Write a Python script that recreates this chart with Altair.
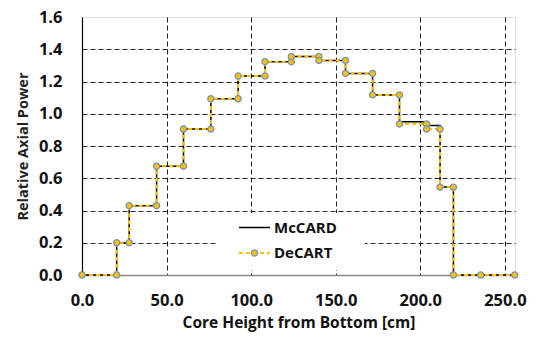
import altair as alt
import pandas as pd

# ---- data ----
height_cm = [0, 20.5, 20.5, 27.9, 27.9, 44.1, 44.1, 60.0, 60.0, 76.2, 76.2, 92.3, 92.3,
             108.2, 108.2, 123.8, 123.8, 140.1, 140.1, 155.8, 155.8, 171.8, 171.8,
             187.7, 187.7, 203.7, 203.7, 211.7, 211.7, 219.6, 219.6, 235.7, 255.8]
decart = [0, 0, 0.20, 0.20, 0.43, 0.43, 0.675, 0.675, 0.905, 0.905, 1.093, 1.093, 1.234,
          1.234, 1.323, 1.323, 1.355, 1.355, 1.331, 1.331, 1.25, 1.25, 1.117, 1.117,
          0.937, 0.937, 0.905, 0.905, 0.545, 0.545, 0, 0, 0]
mccard = [0, 0, 0.20, 0.20, 0.43, 0.43, 0.675, 0.675, 0.905, 0.905, 1.093, 1.093, 1.234,
          1.234, 1.323, 1.323, 1.355, 1.355, 1.331, 1.331, 1.25, 1.25, 1.117, 1.117,
          0.951, 0.951, 0.927, 0.927, 0.545, 0.545, 0, 0, 0]
series_names = ["McCARD", "DeCART"]
x_ticks = [0, 50, 100, 150, 200, 250]
y_ticks = [0, 0.2, 0.4, 0.6, 0.8, 1.0, 1.2, 1.4, 1.6]

FONT = "Open Sans"
GOLD = "#FFC000"
MSTROKE = "#7393B8"

df = pd.DataFrame({"x": height_cm, "mccard": mccard, "decart": decart,
                   "i": list(range(len(height_cm)))})

xs = alt.Scale(domain=[0, 256], nice=False, zero=False)
ys = alt.Scale(domain=[0, 1.6], nice=False)

xaxis = alt.Axis(values=x_ticks, format=".1f", title="Core Height from Bottom [cm]",
                 grid=True, gridColor="#222", gridDash=[5, 3], gridWidth=1,
                 gridOpacity={"condition": {"test": "datum.value <= 0", "value": 0}, "value": 1},
                 ticks=False, domainColor="#888", domainWidth=1.5,
                 labelFlush=False, labelOverlap=False,
                 labelFont=FONT, labelFontSize=16.5, labelFontWeight="bold", labelColor="#111",
                 labelPadding=17, titleFont=FONT, titleFontSize=15.5, titleFontWeight="bold",
                 titleColor="#111", titlePadding=7)
yaxis = alt.Axis(values=y_ticks, format=".1f", title="Relative Axial Power",
                 grid=True, gridColor="#222", gridDash=[5, 3], gridWidth=1,
                 gridOpacity={"condition": {"test": "datum.value >= 1.6 || datum.value <= 0", "value": 0}, "value": 1},
                 ticks=False, domainColor="#000", domainWidth=1.2,
                 labelFlush=False, labelOverlap=False,
                 labelFont=FONT, labelFontSize=16.5, labelFontWeight="bold", labelColor="#111",
                 labelPadding=20, titleFont=FONT, titleFontSize=14.5, titleFontWeight="bold",
                 titleColor="#222", titlePadding=8)

X = alt.X("x:Q", scale=xs, axis=xaxis)
Y_mc = alt.Y("mccard:Q", scale=ys, axis=yaxis)
Y_de = alt.Y("decart:Q", scale=ys, axis=yaxis)

base = alt.Chart(df)
black = base.mark_line(color="#000", strokeWidth=1.5, clip=False).encode(
    x=X, y=Y_mc, order="i:Q")
yellow = base.mark_line(color=GOLD, strokeWidth=2, strokeDash=[4, 3], clip=False).encode(
    x=X, y=Y_de, order="i:Q")
pts = base.mark_point(shape="circle", filled=True, fill=GOLD, stroke=MSTROKE,
                      strokeWidth=1.3, size=38, opacity=1, clip=False).encode(x=X, y=Y_de)

# ---- legend (drawn inside the plot) ----
leg = pd.DataFrame({"name": series_names})
one = alt.Chart(pd.DataFrame({"a": [0]}))
leg_box = one.mark_rect(color="white").encode(
    x=alt.value(135), x2=alt.value(283), y=alt.value(196), y2=alt.value(253))
leg_l1 = one.mark_rule(color="#000", strokeWidth=1.5).encode(
    x=alt.value(157), x2=alt.value(188), y=alt.value(210.5))
leg_l2 = one.mark_rule(color=GOLD, strokeWidth=2, strokeDash=[4, 3]).encode(
    x=alt.value(157), x2=alt.value(188), y=alt.value(236))
leg_pt = one.mark_point(shape="circle", filled=True, fill=GOLD, stroke=MSTROKE,
                        strokeWidth=1.3, size=38, opacity=1).encode(
    x=alt.value(172.5), y=alt.value(236))
leg_t1 = alt.Chart(leg).transform_filter("datum.name == 'McCARD'").mark_text(
    align="left", baseline="middle", font=FONT, fontSize=15, fontWeight="bold", color="#111"
).encode(x=alt.value(192), y=alt.value(210.5), text="name:N")
leg_t2 = alt.Chart(leg).transform_filter("datum.name == 'DeCART'").mark_text(
    align="left", baseline="middle", font=FONT, fontSize=15, fontWeight="bold", color="#111"
).encode(x=alt.value(192), y=alt.value(236), text="name:N")

chart = alt.layer(black, yellow, pts, leg_box, leg_l1, leg_l2, leg_pt, leg_t1, leg_t2).properties(
    width=433, height=258,
    autosize=alt.AutoSizeParams(type="none"),
    padding={"left": 74, "top": 9, "right": 12, "bottom": 60},
).configure_view(stroke="#888", strokeWidth=1.5).configure(background="white")

chart.save("out.html", embed_options={"renderer": "svg", "actions": False})
